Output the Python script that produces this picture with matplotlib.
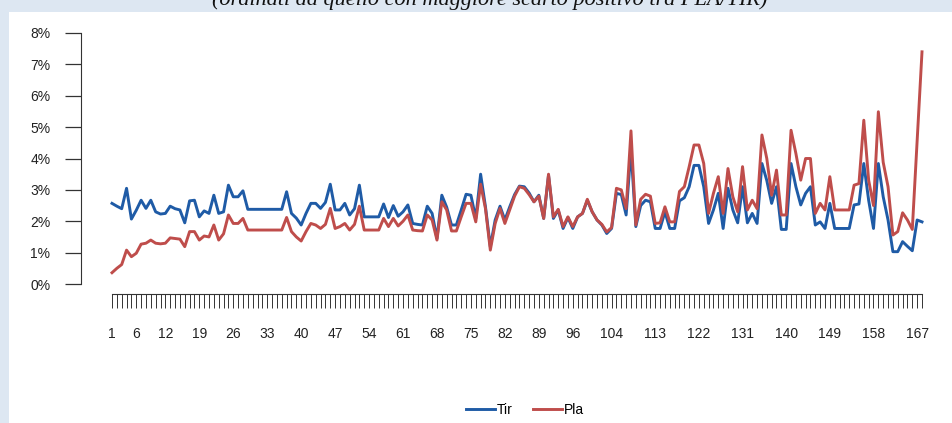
import matplotlib
matplotlib.use("Agg")
import matplotlib.pyplot as plt
from matplotlib.patches import Rectangle

# share per item, in %
tir = [2.57, 2.48, 2.40, 3.05, 2.07, 2.35, 2.67, 2.41, 2.67, 2.30,
       2.23, 2.25, 2.48, 2.40, 2.36, 1.95, 2.65, 2.67, 2.14, 2.33,
       2.25, 2.83, 2.25, 2.30, 3.15, 2.78, 2.78, 2.97, 2.38, 2.38,
       2.38, 2.38, 2.38, 2.38, 2.38, 2.38, 2.94, 2.25, 2.10, 1.88,
       2.25, 2.57, 2.57, 2.41, 2.60, 3.18, 2.36, 2.36, 2.57, 2.20,
       2.40, 3.15, 2.14, 2.14, 2.14, 2.14, 2.55, 2.12, 2.50, 2.16,
       2.30, 2.52, 1.93, 1.90, 1.88, 2.48, 2.25, 1.45, 2.83, 2.45,
       1.88, 1.88, 2.36, 2.86, 2.83, 2.09, 3.50, 2.46, 1.19, 2.04,
       2.48, 2.04, 2.46, 2.85, 3.12, 3.10, 2.90, 2.62, 2.83, 2.09,
       3.47, 2.09, 2.36, 1.77, 2.12, 1.77, 2.14, 2.25, 2.67, 2.30,
       2.04, 1.88, 1.61, 1.77, 2.89, 2.85, 2.20, 4.30, 1.83, 2.50,
       2.67, 2.62, 1.77, 1.77, 2.30, 1.77, 1.77, 2.65, 2.75, 3.10,
       3.78, 3.78, 3.10, 1.93, 2.36, 2.89, 1.77, 3.05, 2.36, 1.95,
       3.10, 1.95, 2.25, 1.93, 3.84, 3.30, 2.57, 3.10, 1.74, 1.74,
       3.84, 3.10, 2.52, 2.89, 3.10, 1.88, 1.98, 1.77, 2.57, 1.77,
       1.77, 1.77, 1.77, 2.52, 2.55, 3.84, 2.67, 1.77, 3.84, 2.78,
       2.04, 1.03, 1.03, 1.35, 1.20, 1.06, 2.04, 1.98]

pla = [0.36, 0.50, 0.62, 1.08, 0.87, 0.98, 1.27, 1.30, 1.40, 1.30,
       1.28, 1.30, 1.47, 1.45, 1.43, 1.19, 1.67, 1.67, 1.40, 1.53,
       1.50, 1.88, 1.40, 1.60, 2.20, 1.93, 1.93, 2.09, 1.72, 1.72,
       1.72, 1.72, 1.72, 1.72, 1.72, 1.72, 2.12, 1.67, 1.50, 1.37,
       1.67, 1.93, 1.88, 1.77, 1.90, 2.41, 1.77, 1.83, 1.93, 1.72,
       1.90, 2.48, 1.72, 1.72, 1.72, 1.72, 2.09, 1.83, 2.09, 1.85,
       2.00, 2.20, 1.72, 1.70, 1.69, 2.20, 2.04, 1.40, 2.62, 2.36,
       1.69, 1.69, 2.14, 2.57, 2.57, 1.98, 3.18, 2.40, 1.08, 1.93,
       2.41, 1.93, 2.36, 2.80, 3.10, 3.05, 2.85, 2.62, 2.80, 2.09,
       3.50, 2.14, 2.38, 1.83, 2.14, 1.83, 2.14, 2.25, 2.70, 2.30,
       2.04, 1.90, 1.66, 1.80, 3.05, 3.00, 2.40, 4.88, 1.88, 2.70,
       2.86, 2.80, 1.93, 1.95, 2.46, 1.98, 1.98, 2.95, 3.10, 3.74,
       4.43, 4.43, 3.84, 2.25, 2.89, 3.42, 2.25, 3.68, 2.78, 2.30,
       3.74, 2.36, 2.67, 2.40, 4.75, 4.00, 2.83, 3.63, 2.20, 2.20,
       4.90, 4.16, 3.31, 4.00, 4.00, 2.25, 2.57, 2.36, 3.42, 2.36,
       2.36, 2.36, 2.36, 3.15, 3.20, 5.22, 3.31, 2.50, 5.49, 3.88,
       3.10, 1.56, 1.67, 2.27, 2.04, 1.74, 4.60, 7.40]

shown_labels = [1, 6, 12, 19, 26, 33, 40, 47, 54, 61, 68, 75, 82, 89, 96,
                104, 113, 122, 131, 140, 149, 158, 167]
y_ticks = [0, 1, 2, 3, 4, 5, 6, 7, 8]
title = "(ordinati da quello con maggiore scarto positivo tra PLA/TIR)"

W, H = 953, 423
BLUE = "#1f5ba6"
RED = "#bf4d4b"
AXC = "#333333"
FS = 10

fig = plt.figure(figsize=(W / 100, H / 100), dpi=100, facecolor="#dde7f2")
fig.add_artist(Rectangle((9 / W, 0), 1, 1 - 12 / H, transform=fig.transFigure,
                         facecolor="white", edgecolor="none", zorder=0))

# the title sits mostly above the top edge, as in the source
fig.text(490 / W, 1 - 5.5 / H, title, ha="center", va="baseline", fontsize=16,
         family="Liberation Serif", style="italic", color="#111111", zorder=5)

ax = fig.add_axes([81 / W, 1 - 284 / H, (930 - 81) / W, (284 - 33) / H])
ax.patch.set_alpha(0)

x = list(range(len(tir)))
ax.plot(x, tir, color=BLUE, lw=2.1, label="Tir", solid_joinstyle="round")
ax.plot(x, pla, color=RED, lw=2.1, label="Pla", solid_joinstyle="round")

px_per = (922 - 112) / 167
ax.set_xlim(-(112 - 81) / px_per, (930 - 112) / px_per)
ax.set_ylim(0, 8)

for s in ["top", "right"]:
    ax.spines[s].set_visible(False)
ax.spines["left"].set_bounds(0, 8)
ax.spines["left"].set_color(AXC)
ax.spines["bottom"].set_position(("outward", 7.2))
ax.spines["bottom"].set_bounds(0, len(tir) - 1)
ax.spines["bottom"].set_color(AXC)

ax.set_yticks(y_ticks)
ax.set_yticklabels([f"{v}%" for v in y_ticks])
ax.tick_params(axis="y", direction="out", length=11.5, width=0.9, color=AXC,
               pad=10.5, labelsize=FS, labelcolor="#222222")

xlabels = [str(i + 1) if (i + 1) in shown_labels else "" for i in x]
ax.set_xticks(x)
ax.set_xticklabels(xlabels)
ax.tick_params(axis="x", direction="out", length=10, width=0.7, color=AXC,
               pad=13.5, labelsize=FS, labelcolor="#222222")

for lab in ax.get_xticklabels() + ax.get_yticklabels():
    lab.set_family("Liberation Sans")

fig.legend(loc="center", bbox_to_anchor=(525 / W, 1 - 410 / H), ncol=2,
           frameon=False, handlelength=2.1, handletextpad=0.1,
           columnspacing=1.5, prop={"family": "Liberation Sans", "size": FS})

fig.savefig("out.png", dpi=100, facecolor=fig.get_facecolor())
